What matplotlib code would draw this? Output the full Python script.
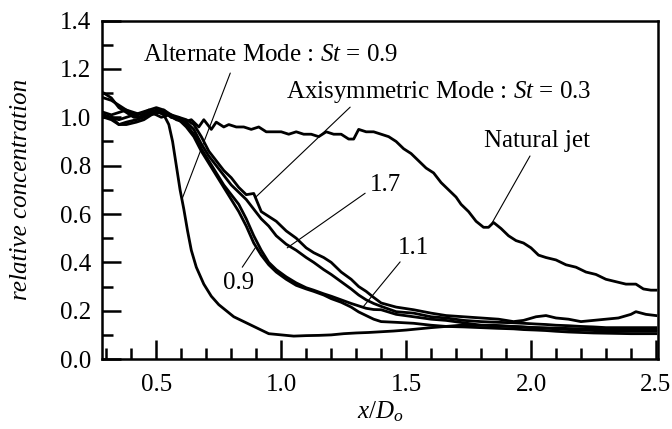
import matplotlib
matplotlib.use('Agg')
import matplotlib.pyplot as plt
from matplotlib.ticker import MultipleLocator

plt.rcParams['font.family'] = ['Liberation Serif', 'DejaVu Serif']
plt.rcParams['mathtext.fontset'] = 'custom'
plt.rcParams['mathtext.rm'] = 'Liberation Serif'
plt.rcParams['mathtext.it'] = 'Liberation Serif:italic'

# Natural jet
x_nat = [0.29, 0.32, 0.35, 0.38, 0.42, 0.45, 0.48, 0.52, 0.55, 0.58, 0.61, 0.64, 0.67, 0.69,
         0.72, 0.74, 0.77, 0.79, 0.82, 0.85, 0.88, 0.91, 0.94, 0.97, 1.00, 1.03, 1.06, 1.09,
         1.12, 1.15, 1.18, 1.21, 1.24, 1.27, 1.29, 1.31, 1.34, 1.37, 1.40, 1.43, 1.46, 1.49,
         1.52, 1.55, 1.58, 1.61, 1.64, 1.67, 1.70, 1.72, 1.75, 1.78, 1.81, 1.83, 1.85, 1.88,
         1.91, 1.94, 1.97, 2.00, 2.03, 2.06, 2.10, 2.14, 2.18, 2.22, 2.26, 2.30, 2.34, 2.38,
         2.42, 2.45, 2.48, 2.50]
y_nat = [1.00, 0.99, 0.97, 0.98, 0.99, 1.00, 1.02, 1.00, 1.01, 0.99, 0.98, 0.99, 0.96, 0.99,
         0.95, 0.98, 0.96, 0.97, 0.96, 0.96, 0.95, 0.96, 0.94, 0.94, 0.94, 0.93, 0.94, 0.93,
         0.93, 0.92, 0.94, 0.93, 0.93, 0.91, 0.91, 0.95, 0.94, 0.94, 0.93, 0.92, 0.90, 0.87,
         0.85, 0.82, 0.79, 0.77, 0.73, 0.70, 0.67, 0.64, 0.61, 0.57, 0.545, 0.545, 0.565, 0.54,
         0.51, 0.49, 0.48, 0.46, 0.43, 0.42, 0.41, 0.39, 0.38, 0.36, 0.35, 0.33, 0.32, 0.31,
         0.31, 0.29, 0.285, 0.285]

# Alternate mode St = 0.9
x_alt = [0.29, 0.32, 0.35, 0.38, 0.42, 0.45, 0.48, 0.51, 0.53, 0.55, 0.565, 0.58, 0.595, 0.61,
         0.625, 0.64, 0.66, 0.69, 0.72, 0.75, 0.78, 0.81, 0.85, 0.88, 0.92, 0.95, 1.00, 1.05,
         1.10, 1.15, 1.20, 1.25, 1.30, 1.35, 1.40, 1.45, 1.50, 1.55, 1.60, 1.66, 1.72, 1.78,
         1.85, 1.92, 2.00, 2.10, 2.20, 2.30, 2.40, 2.50]
y_alt = [1.01, 1.00, 0.97, 0.97, 0.98, 0.99, 1.01, 1.02, 1.01, 0.97, 0.90, 0.80, 0.70, 0.62,
         0.53, 0.45, 0.38, 0.31, 0.26, 0.225, 0.20, 0.175, 0.155, 0.14, 0.12, 0.105, 0.10, 0.095,
         0.097, 0.098, 0.10, 0.105, 0.108, 0.11, 0.113, 0.116, 0.12, 0.125, 0.13, 0.135, 0.14, 0.14,
         0.14, 0.135, 0.13, 0.128, 0.125, 0.122, 0.12, 0.12]

# Axisymmetric mode, St = 0.3, 1.7, 1.1, 0.9
x_axi = [0.29, 0.32, 0.35, 0.38, 0.41, 0.44, 0.47, 0.50, 0.53, 0.56, 0.59, 0.62, 0.65, 0.68,
         0.71, 0.74, 0.77, 0.80, 0.83, 0.86, 0.89, 0.92, 0.95, 0.98, 1.02, 1.06, 1.10, 1.13,
         1.17, 1.20, 1.24, 1.28, 1.31, 1.34, 1.37, 1.40, 1.46, 1.53, 1.60, 1.66, 1.73, 1.80,
         1.87, 1.93, 1.97, 2.02, 2.06, 2.10, 2.15, 2.20, 2.25, 2.30, 2.35, 2.40, 2.42, 2.46, 2.50]
y_st03 = [1.08, 1.07, 1.05, 1.03, 1.01, 1.02, 1.03, 1.04, 1.03, 1.00, 1.00, 0.99, 0.97, 0.92,
          0.86, 0.82, 0.78, 0.75, 0.71, 0.68, 0.685, 0.61, 0.59, 0.57, 0.53, 0.50, 0.46, 0.44,
          0.42, 0.40, 0.36, 0.33, 0.30, 0.28, 0.255, 0.232, 0.215, 0.204, 0.19, 0.18, 0.175, 0.17,
          0.165, 0.155, 0.16, 0.175, 0.18, 0.17, 0.165, 0.155, 0.16, 0.165, 0.17, 0.185, 0.196, 0.185, 0.18]
y_st17 = [1.10, 1.08, 1.04, 1.02, 1.00, 1.00, 1.02, 1.03, 1.02, 1.01, 0.99, 0.98, 0.95, 0.89,
          0.84, 0.80, 0.76, 0.72, 0.69, 0.66, 0.62, 0.58, 0.55, 0.51, 0.475, 0.45, 0.42, 0.40,
          0.37, 0.35, 0.32, 0.29, 0.265, 0.245, 0.23, 0.218, 0.196, 0.19, 0.175, 0.17, 0.16, 0.155,
          0.152, 0.15, 0.148, 0.145, 0.143, 0.14, 0.138, 0.135, 0.133, 0.13, 0.13, 0.13, 0.13, 0.13, 0.13]
y_st11 = [1.02, 1.01, 1.02, 1.03, 1.02, 1.01, 1.03, 1.02, 1.03, 1.01, 1.00, 0.97, 0.93, 0.87,
          0.82, 0.77, 0.72, 0.68, 0.64, 0.58, 0.51, 0.45, 0.40, 0.37, 0.34, 0.315, 0.295, 0.285,
          0.27, 0.26, 0.245, 0.23, 0.22, 0.21, 0.205, 0.204, 0.185, 0.175, 0.165, 0.16, 0.15, 0.14,
          0.137, 0.135, 0.133, 0.13, 0.128, 0.125, 0.122, 0.12, 0.118, 0.115, 0.115, 0.115, 0.115, 0.115, 0.115]
y_st09 = [1.00, 1.00, 0.99, 1.00, 1.01, 1.00, 1.01, 1.03, 1.02, 1.00, 0.99, 0.96, 0.92, 0.86,
          0.81, 0.76, 0.71, 0.66, 0.61, 0.55, 0.48, 0.43, 0.39, 0.36, 0.33, 0.305, 0.29, 0.28,
          0.265, 0.25, 0.235, 0.215, 0.195, 0.18, 0.165, 0.155, 0.152, 0.148, 0.14, 0.135, 0.133, 0.13,
          0.127, 0.125, 0.122, 0.12, 0.118, 0.115, 0.112, 0.11, 0.108, 0.107, 0.106, 0.105, 0.105, 0.105, 0.105]

fig = plt.figure(figsize=(6.72, 4.29), dpi=100)
ax = fig.add_axes([0.152, 0.163, 0.827, 0.789])

lw = 2.0
ax.plot(x_nat, y_nat, color='black', lw=lw)
ax.plot(x_alt, y_alt, color='black', lw=lw)
for y in [y_st03, y_st17, y_st11, y_st09]:
    ax.plot(x_axi, y, color='black', lw=lw)

ax.set_xlim(0.283, 2.508)
ax.set_ylim(0.0, 1.4)
ax.xaxis.set_major_locator(MultipleLocator(0.5))
ax.xaxis.set_minor_locator(MultipleLocator(0.1))
ax.yaxis.set_major_locator(MultipleLocator(0.2))
ax.yaxis.set_minor_locator(MultipleLocator(0.1))
ax.xaxis.set_major_formatter(plt.FormatStrFormatter('%.1f'))
ax.yaxis.set_major_formatter(plt.FormatStrFormatter('%.1f'))
ax.tick_params(which='both', direction='in', width=1.8, labelsize=18,
               top=False, right=False)
ax.tick_params(which='major', length=14)
ax.tick_params(which='minor', length=8)
ax.tick_params(axis='x', which='major', pad=11)
ax.tick_params(axis='y', which='major', pad=8)
for s in ax.spines.values():
    s.set_linewidth(1.8)

ax.set_xlabel('$x/D_o$', fontsize=18, labelpad=2)
ax.set_ylabel('relative concentration', fontsize=18, style='italic', labelpad=20)

# annotations
fs = 18
line = dict(arrowstyle='-', lw=0.8, color='black', shrinkA=0, shrinkB=0)
ax.text(0.956, 1.257, 'Alternate Mode : $St$ = 0.9', fontsize=fs, ha='center', va='center')
ax.annotate('', xy=(0.604, 0.665), xytext=(0.796, 1.183), arrowprops=line)
ax.text(1.632, 1.105, 'Axisymmetric Mode : $St$ = 0.3', fontsize=fs, ha='center', va='center')
ax.annotate('', xy=(0.896, 0.668), xytext=(1.276, 1.042), arrowprops=line)
ax.text(2.024, 0.902, 'Natural jet', fontsize=fs, ha='center', va='center')
ax.annotate('', xy=(1.844, 0.563), xytext=(1.996, 0.84), arrowprops=line)
ax.text(1.416, 0.72, '1.7', fontsize=fs, ha='center', va='center')
ax.annotate('', xy=(1.024, 0.46), xytext=(1.336, 0.686), arrowprops=line)
ax.text(1.53, 0.46, '1.1', fontsize=fs, ha='center', va='center')
ax.annotate('', xy=(1.328, 0.216), xytext=(1.476, 0.402), arrowprops=line)
ax.text(0.828, 0.313, '0.9', fontsize=fs, ha='center', va='center')
ax.annotate('', xy=(0.896, 0.46), xytext=(0.844, 0.38), arrowprops=line)

fig.savefig('out.png', dpi=100)
